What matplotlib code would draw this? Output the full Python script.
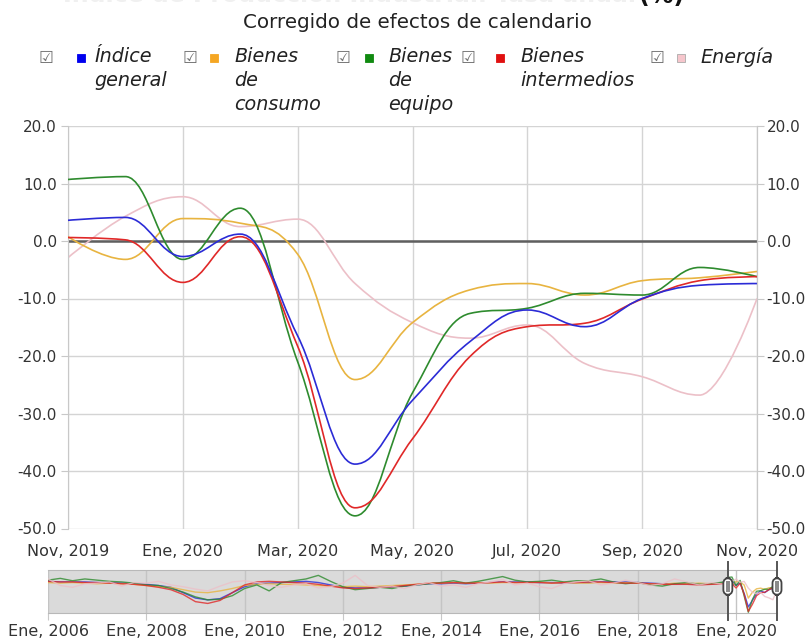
import numpy as np
import matplotlib
matplotlib.use("Agg")
import matplotlib.pyplot as plt
from matplotlib.path import Path
from matplotlib.patches import PathPatch, Rectangle, FancyBboxPatch
from matplotlib.transforms import blended_transform_factory

plt.rcParams['font.family'] = ['DejaVu Sans']

# ---------------- data ----------------
main_ticklabels = ['Nov, 2019', 'Ene, 2020', 'Mar, 2020', 'May, 2020',
                   'Jul, 2020', 'Sep, 2020', 'Nov, 2020']
series_names = ['Índice\ngeneral', 'Bienes\nde\nconsumo', 'Bienes\nde\nequipo',
                'Bienes\nintermedios', 'Energía']
series_colors = ['#2b2bd6', '#e8b440', '#2e8b2e', '#e02828', '#ecc0c8']
legend_colors = ['#0000ee', '#f5a623', '#108a10', '#e01010', '#f6c6cc']

# monthly values Nov 2019 .. Nov 2020
indice_general = [3.6, 4.1, -2.7, 1.2, -16.5, -38.8, -27.7, -17.5, -12.0, -14.9, -10.0, -7.7, -7.4]
bienes_consumo = [0.75, -3.2, 3.9, 3.1, -2.3, -24.1, -14.2, -8.5, -7.4, -9.4, -6.9, -6.4, -5.3]
bienes_equipo = [10.7, 11.2, -3.2, 5.7, -21.0, -47.8, -26.4, -12.6, -11.7, -9.1, -9.4, -4.6, -6.2]
bienes_intermedios = [0.6, 0.2, -7.2, 0.75, -18.3, -46.4, -34.4, -20.1, -14.9, -14.3, -10.1, -6.9, -6.2]
energia = [-2.9, 4.3, 7.7, 2.5, 3.8, -7.4, -14.2, -16.9, -14.6, -21.3, -23.6, -26.8, -10.0]

# navigator: quarterly history Jan 2006 .. Oct 2019
hist_indice = [4, 3, 3, 3, 2, 2, 1, 0, -1, -3, -6, -15, -24, -27, -25, -15,
               -5, 0, 1, 2, 3, 4, 2, -2, -6, -7, -7, -6, -5, -4, -2, 0,
               0, 1, 0, 1, 2, 3, 3, 3, 2, 2, 1, 2, 2, 3, 3, 3, 2, 1, 0, 0, 0, -1, 0, 1]
hist_consumo = [2, 1, 2, 1, 0, 1, 0, -1, -3, -5, -6, -10, -14, -15, -12, -8,
                -3, -1, 0, -1, -1, -2, -3, -4, -5, -4, -5, -4, -3, -2, -1, 1,
                1, 2, 1, 2, 1, 2, 2, 2, 3, 1, 2, 1, 1, 2, 1, 2, 1, 0, -1, 1, 0, 1, 0, 1]
hist_equipo = [6, 9, 5, 8, 6, 4, 3, 1, -2, -3, -8, -14, -22, -27, -26, -20,
               -8, -2, -12, 2, 5, 8, 14, 4, -5, -10, -8, -6, -8, -4, -2, 0,
               2, 5, 1, 4, 8, 12, 6, 3, 4, 6, 3, 5, 5, 8, 3, 0, 2, -2, -4, 0, 2, -1, 0, 3]
hist_intermedios = [4, 3, 3, 2, 2, 1, 0, -1, -3, -6, -10, -18, -30, -33, -28, -15,
                    -2, 3, 4, 3, 2, 1, -1, -4, -7, -8, -7, -6, -5, -3, -1, 1,
                    1, 2, 1, 1, 2, 3, 2, 2, 2, 1, 2, 2, 3, 3, 2, 1, 1, 0, -1, -1, -1, -2, -1, 0]
hist_energia = [8, -3, -6, 0, 1, 3, -4, 2, 1, 4, -2, -5, -9, -12, -4, 3,
                5, 2, -3, -6, -2, 0, -7, -5, 1, 14, -3, -6, -4, -8, -2, 2,
                -4, -2, -6, 0, 3, 7, -2, 1, -5, -8, 0, 3, 5, -2, 1, 6, 2, -3, 0, 8, 3, -2, 2, -1]

nav_ticklabels = ['Ene, 2006', 'Ene, 2008', 'Ene, 2010', 'Ene, 2012',
                  'Ene, 2014', 'Ene, 2016', 'Ene, 2018', 'Ene, 2020']

main_series = [indice_general, bienes_consumo, bienes_equipo, bienes_intermedios, energia]
hist_series = [hist_indice, hist_consumo, hist_equipo, hist_intermedios, hist_energia]


def spline_path(xs, ys, smoothing=1.5):
    """Highcharts-like spline path through the points."""
    n = len(xs)
    denom = smoothing + 1
    lc = [None] * n
    rc = [None] * n
    for i in range(1, n - 1):
        px, py = xs[i], ys[i]
        lx, ly = xs[i - 1], ys[i - 1]
        nx, ny = xs[i + 1], ys[i + 1]
        lcx = (smoothing * px + lx) / denom
        lcy = (smoothing * py + ly) / denom
        rcx = (smoothing * px + nx) / denom
        rcy = (smoothing * py + ny) / denom
        corr = 0.0
        if rcx != lcx:
            corr = ((rcy - lcy) * (rcx - px)) / (rcx - lcx) + py - rcy
        lcy += corr
        rcy += corr
        if lcy > ly and lcy > py:
            lcy = max(ly, py); rcy = 2 * py - lcy
        elif lcy < ly and lcy < py:
            lcy = min(ly, py); rcy = 2 * py - lcy
        if rcy > ny and rcy > py:
            rcy = max(ny, py); lcy = 2 * py - rcy
        elif rcy < ny and rcy < py:
            rcy = min(ny, py); lcy = 2 * py - rcy
        lc[i] = (lcx, lcy)
        rc[i] = (rcx, rcy)
    verts = [(xs[0], ys[0])]
    codes = [Path.MOVETO]
    for i in range(1, n):
        c1 = rc[i - 1] if rc[i - 1] is not None else (xs[i - 1], ys[i - 1])
        c2 = lc[i] if lc[i] is not None else (xs[i], ys[i])
        verts += [c1, c2, (xs[i], ys[i])]
        codes += [Path.CURVE4] * 3
    return Path(verts, codes)


W, H = 811, 643
fig = plt.figure(figsize=(W / 100, H / 100), dpi=100)

# ---------------- title (cut at the top edge, as in the reference) / subtitle ----------------
fig.text(636 / W, 1 - 2.5 / H, 'Índice de Producción Industrial. Tasa anual', ha='right',
         va='baseline', fontsize=17, fontweight='bold', color='#f0f0f0')
fig.text(639 / W, 1 - 2.5 / H, '(%)', ha='left', va='baseline', fontsize=17,
         fontweight='bold', color='#111111')
fig.text(417 / W, 1 - 22 / H, 'Corregido de efectos de calendario', ha='center',
         va='center', fontsize=14.3, color='#222222')

# ---------------- legend ----------------
cb_x = [46, 190, 343, 468, 657]
sq_x = [81, 214, 369, 500, 681]
tx_x = [94, 234, 388, 520, 700]
for i in range(5):
    fig.text(cb_x[i] / W, 1 - 58 / H, '\u2611', ha='center', va='center',
             fontsize=12, color='#707070')
    fig.patches.append(Rectangle(((sq_x[i] - 4) / W, 1 - 62 / H), 8 / W, 8 / H,
                                 transform=fig.transFigure, facecolor=legend_colors[i],
                                 edgecolor='#aaaaaa' if i == 4 else legend_colors[i], lw=0.6))
    fig.text(tx_x[i] / W, 1 - 47.5 / H, series_names[i], ha='left', va='top',
             fontsize=13.8, style='italic', color='#222222', linespacing=1.32)

# ---------------- main chart ----------------
L, R, T, B = 68, 757, 126, 528.5
ax = fig.add_axes([L / W, 1 - B / H, (R - L) / W, (B - T) / H])
xs = list(range(len(indice_general)))
for vals, col, z in zip(main_series, series_colors, [5, 3, 4, 4, 2]):
    ax.add_patch(PathPatch(spline_path(xs, vals), facecolor='none', edgecolor=col,
                           lw=1.2, zorder=z))
ax.set_xlim(0, 12)
ax.set_ylim(-50, 20)
yt = np.arange(-50, 21, 10)
ax.set_yticks(yt)
ax.set_yticklabels([f'{v:.1f}' for v in yt])
ax.set_xticks(range(0, 13, 2))
ax.set_xticklabels(main_ticklabels)
ax.grid(True, color='#d4d4d4', lw=1)
ax.set_axisbelow(True)
ax.axhline(0, color='#5f5f5f', lw=1.8, zorder=1)
for s in ['top', 'bottom']:
    ax.spines[s].set_visible(False)
for s in ['left', 'right']:
    ax.spines[s].set_color('#c8c8c8')
ax.tick_params(axis='y', length=5, color='#c8c8c8', labelsize=11, labelcolor='#333333', pad=3)
ax.tick_params(axis='x', length=0, labelsize=11.5, labelcolor='#333333', pad=11)
ax2 = ax.twinx()
ax2.set_ylim(-50, 20)
ax2.set_yticks(yt)
ax2.set_yticklabels([f'{v:.1f}' for v in yt])
ax2.tick_params(axis='y', length=5, color='#c8c8c8', labelsize=11, labelcolor='#333333', pad=2)
for s in ['top', 'bottom', 'left']:
    ax2.spines[s].set_visible(False)
ax2.spines['right'].set_color('#c8c8c8')

# ---------------- navigator ----------------
NL, NR, NT, NB = 48, 777, 570, 612.7
nav = fig.add_axes([NL / W, 1 - NB / H, (NR - NL) / W, (NB - NT) / H])
x_start = 2006.0
x_sel0 = 2019 + 10 / 12
x_end = 2020 + 10 / 12
hist_x = [x_start + 0.25 * k for k in range(len(hist_indice))]
main_x = [x_sel0 + k / 12 for k in range(len(indice_general))]
nav.axvspan(x_start, x_sel0, color='#dadada', lw=0, zorder=0.5)
for hv, mv, col in zip(hist_series, main_series, series_colors):
    nav.plot(hist_x + main_x, list(hv) + list(mv), color=col, lw=1.0, alpha=0.8,
             solid_joinstyle='round', zorder=2)
nav.set_xlim(x_start, x_end)
nav.set_ylim(-48.5, 23)
nav.set_yticks([])
nav.set_xticks([2006 + 2 * k for k in range(8)])
nav.set_xticklabels(nav_ticklabels)
nav.grid(True, axis='x', color='#c4c4c4', lw=1, zorder=1)
nav.set_axisbelow(True)
nav.tick_params(axis='x', length=5, color='#c8c8c8', labelsize=11.5, labelcolor='#333333', pad=3)
for s in ['left', 'right']:
    nav.spines[s].set_visible(False)
for s in ['top', 'bottom']:
    nav.spines[s].set_color('#b8b8b8')

bt = blended_transform_factory(nav.transData, nav.transAxes)
for xv in (x_sel0, x_end):
    nav.plot([xv, xv], [-0.18, 1.18], color='#555555', lw=1.4, transform=bt,
             clip_on=False, zorder=6)
fig.canvas.draw()
for xv in (x_sel0, x_end):
    dx, _ = nav.transData.transform((xv, 0))
    cy = 586.5
    hw, hh = 4.5, 8.5
    fig.patches.append(FancyBboxPatch(((dx - hw) / W, 1 - (cy + hh) / H),
                                      2 * hw / W, 2 * hh / H,
                                      boxstyle='round,pad=0,rounding_size=0.008',
                                      transform=fig.transFigure, facecolor='white',
                                      edgecolor='#444444', lw=1.3, zorder=10))
    fig.patches.append(Rectangle(((dx - 1.8) / W, 1 - (cy + 5.5) / H), 3.6 / W, 11 / H,
                                 transform=fig.transFigure, facecolor='#8a8a8a',
                                 edgecolor='none', zorder=11))

fig.savefig('out.png', dpi=100)
